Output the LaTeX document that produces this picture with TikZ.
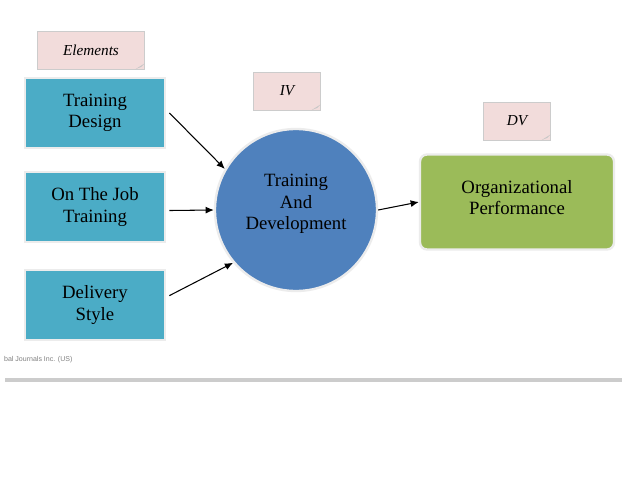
\documentclass[tikz,border=0pt]{standalone}
\usepackage{fontspec}
\setmainfont{Liberation Serif}
\setsansfont{Liberation Sans}
\usetikzlibrary{positioning,arrows.meta}
\definecolor{teal}{HTML}{4BACC6}
\definecolor{tdblue}{HTML}{4F81BD}
\definecolor{orggreen}{HTML}{9BBB59}
\definecolor{notepink}{HTML}{F2DCDB}
\tikzset{
  elembox/.style={rectangle, fill=teal, draw=white!85!gray, line width=1.5pt,
    minimum width=140*0.03cm, minimum height=70*0.03cm, align=center,
    font=\fontsize{16}{18}\selectfont},
  notebox/.style={rectangle, fill=notepink, draw=gray!40, minimum height=38*0.03cm,
    font=\fontsize{13}{15}\selectfont\itshape},
  link/.style={-{Latex[length=7pt,width=6pt]}, line width=0.9pt}
}
\begin{document}
\begin{tikzpicture}[x=0.03cm,y=-0.03cm]
\useasboundingbox (0,0) rectangle (638,479);
\fill[white] (0,0) rectangle (638,479);

% notes
\node[notebox, minimum width=107*0.03cm] (elem) at (91,50) {Elements};
\node[notebox, minimum width=67*0.03cm] (iv) at (287,91) {IV};
\node[notebox, minimum width=67*0.03cm] (dv) at (517,121) {DV};
\foreach \n in {elem,iv,dv}
  \fill[gray!45] ([xshift=-8pt]\n.south east) -- ([yshift=5pt]\n.south east) -- ([xshift=-3pt,yshift=2pt]\n.south east) -- cycle;

% elements
\node[elembox] (design) at (95,113) {Training\\Design};
\node[elembox] (job) at (95,207) {On The Job\\Training};
\node[elembox] (style) at (95,305) {Delivery\\Style};

% independent and dependent variables
\node[circle, fill=tdblue, draw=white!85!gray, line width=2pt, minimum size=162*0.03cm,
  align=center, font=\fontsize{16}{18}\selectfont] (td) at (296,210) {\\[-2.5em]Training\\And\\Development};
\node[rectangle, rounded corners=6pt, fill=orggreen, draw=white!85!gray, line width=2pt,
  minimum width=194*0.03cm, minimum height=95*0.03cm, align=center,
  font=\fontsize{16}{18}\selectfont, text depth=0.8em] (perf) at (517,202) {Organizational\\Performance};

\draw[link] (design.east) ++(3pt,0) -- (td.150);
\draw[link] (job.east) ++(3pt,-3pt) -- (td.west);
\draw[link] (style.east) ++(3pt,8pt) -- (td.220);
\draw[link] (td.east) -- (perf.west);

% footer
\node[anchor=west, font=\sffamily\fontsize{6}{7}\selectfont, text=gray] (src) at (0,360) {bal Journals Inc. (US)};
\coordinate (la) at (5,380);
\coordinate (lb) at (622,380);
\draw[gray!40, line width=3pt] (la) -- (lb);
\end{tikzpicture}
\end{document}
